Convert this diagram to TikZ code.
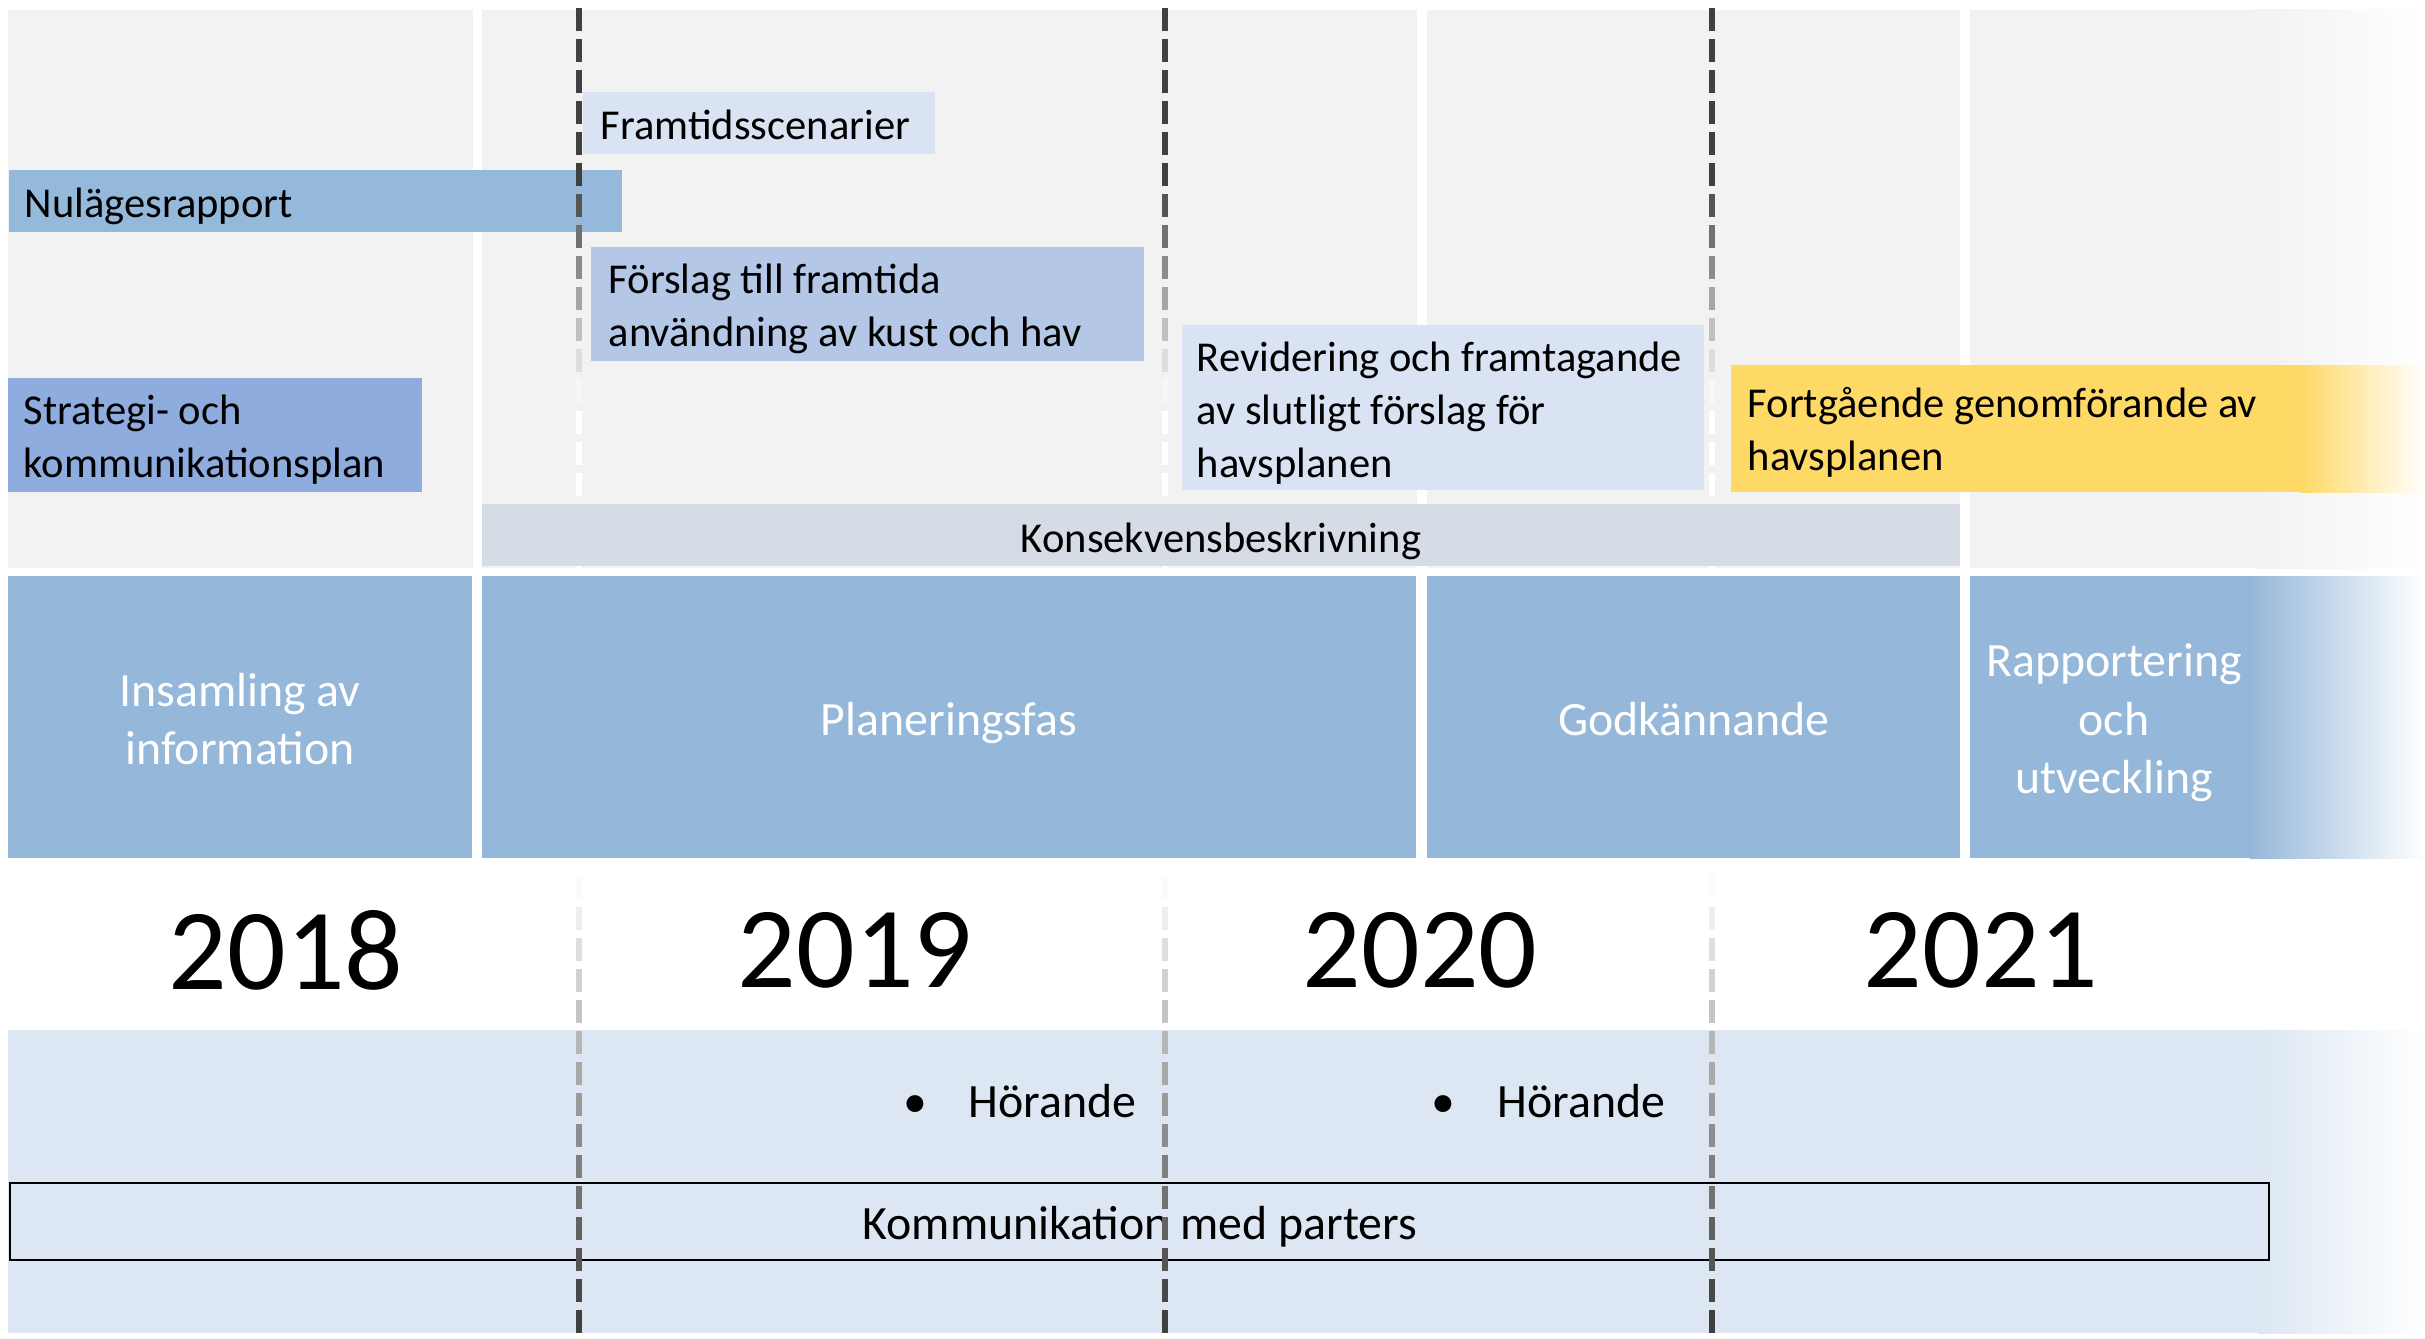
\documentclass[tikz,border=0pt]{standalone}
\usepackage{fontspec}
\setmainfont{Carlito}
\usepackage{xcolor}
\usepackage{tikz}

\definecolor{bandgray}{HTML}{F2F2F2}
\definecolor{phaseblue}{HTML}{95B7D9}
\definecolor{nulblue}{HTML}{95B9DB}
\definecolor{stratblue}{HTML}{8EACDD}
\definecolor{forslagblue}{HTML}{B4C7E7}
\definecolor{paleblue}{HTML}{DAE3F3}
\definecolor{konsgray}{HTML}{D6DCE5}
\definecolor{goldfill}{HTML}{FFD966}
\definecolor{commblue}{HTML}{DCE7F3}
\definecolor{dashdark}{HTML}{404040}

\newcommand{\tasksize}{\fontsize{12.1}{15}\selectfont}
\newcommand{\commsize}{\fontsize{13.6}{16.6}\selectfont}
\newcommand{\phasesize}{\fontsize{13.6}{16.6}\selectfont}
\newcommand{\yearsize}{\fontsize{32.9}{40}\selectfont}

\begin{document}
\begin{tikzpicture}[x=0.01cm,y=0.01cm,
  task/.style={anchor=west,align=left,inner sep=0pt,font=\tasksize},
  phase/.style={align=center,text=white,inner sep=0pt,font=\phasesize},
  year/.style={inner sep=0pt,font=\yearsize},
  dashline/.style={line width=0.06cm}]
\useasboundingbox (0,0) rectangle (2425,1338);
% grey columns behind the tasks
\fill[bandgray] (8,770) rectangle (473,1328);
\fill[bandgray] (482,770) rectangle (1417,1328);
\fill[bandgray] (1427,770) rectangle (1960,1328);
\fill[bandgray] (1970,770) rectangle (2255,1328);
\shade[left color=bandgray,right color=white] (2255,770) rectangle (2425,1328);
% communication band
\fill[commblue] (8,5) rectangle (2258,308);
\shade[left color=commblue,right color=white] (2258,5) rectangle (2425,308);
\draw[line width=0.6pt] (10,78) rectangle (2269,155);
\draw (1140,111) node (komm) {\commsize Kommunikation med parters};
% tasks
\fill[paleblue] (583,1184) rectangle (935,1246);
\draw (600,1213) node[task] (framtid) {Framtidsscenarier};
\fill[nulblue] (9,1106) rectangle (622,1168);
\draw (24,1132) node[task] (nulage) {Nulägesrapport};
\fill[forslagblue] (591,977) rectangle (1144,1091);
\draw (608,1029) node[task] (forslag) {Förslag till framtida\\användning av kust och hav};
\fill[stratblue] (8,846) rectangle (422,960);
\draw (23,898) node[task] (strategi) {Strategi- och\\kommunikationsplan};
\fill[paleblue] (1182,848) rectangle (1704,1013);
\draw (1196,925) node[task] (revid) {Revidering och framtagande\\av slutligt förslag för\\havsplanen};
\fill[goldfill] (1731,846) rectangle (2301,973);
\shade[left color=goldfill,right color=white] (2301,846) rectangle (2425,973);
\draw (1747,906) node[task] (genomf) {Fortgående genomförande av\\havsplanen};
% year borders, dashes fade out in the middle
\foreach \xd in {579,1165,1712}{
  \foreach \i in {0,...,42}{
    \pgfmathsetmacro\ya{8+31*\i}
    \pgfmathsetmacro\ym{\ya+11.5}
    \pgfmathtruncatemacro\pw{(\ym<180) ? 0 : ((\ym<400) ? ((\ym-180)/2.2) : ((\ym<880) ? 100 : ((\ym<1310) ? (100-(\ym-880)/4.3) : 0)))}
    \draw[dashline,white!\pw!dashdark] (\xd,{1338-\ya}) -- (\xd,{1338-\ya-23});
  }
}
\fill[konsgray] (482,772) rectangle (1960,834);
\draw (1221,797) node (kons) {\tasksize Konsekvensbeskrivning};
% phases
\fill[phaseblue] (8,480) rectangle (472,762);
\fill[phaseblue] (482,480) rectangle (1416,762);
\fill[phaseblue] (1427,480) rectangle (1960,762);
\fill[phaseblue] (1970,480) rectangle (2250,762);
\shade[left color=phaseblue,right color=white] (2250,480) rectangle (2425,762);
\draw (240,619) node[phase] (insaml) {Insamling av\\information};
\draw (949,615) node[phase] (planfas) {Planeringsfas};
\draw (1694,619) node[phase] (godk) {Godkännande};
\draw (2114,615) node[phase] (rapp) {Rapportering\\och\\utveckling};
% years
\draw (286,388) node[year] (y2018) {2018};
\draw (855,388) node[year] (y2019) {2019};
\draw (1420,388) node[year] (y2020) {2020};
\draw (1981,388) node[year] (y2021) {2021};
% hearings
\draw (903,237) node[task,font=\commsize] (hor1) {\makebox[0.65cm][l]{\textbullet}Hörande};
\draw (1431,237) node[task,font=\commsize] (hor2) {\makebox[0.66cm][l]{\textbullet}Hörande};
\end{tikzpicture}
\end{document}
